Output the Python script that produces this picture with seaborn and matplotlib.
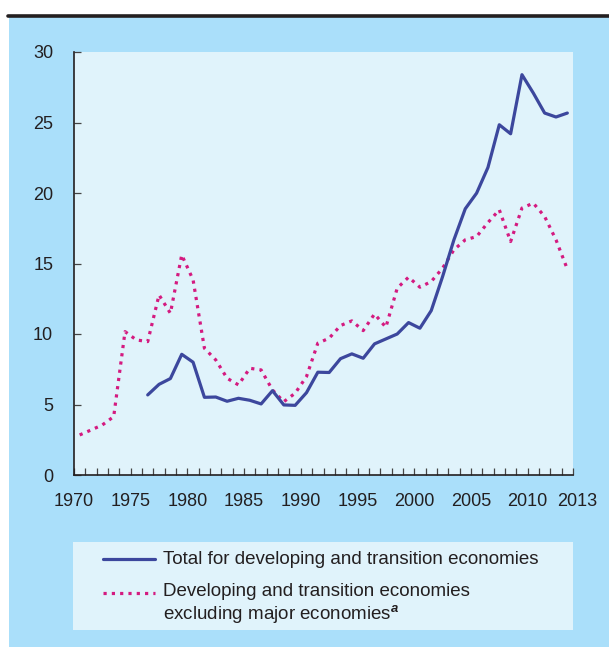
import numpy as np
import pandas as pd
import matplotlib.pyplot as plt
import seaborn as sns
from matplotlib.lines import Line2D
from matplotlib.patches import Rectangle
from matplotlib.transforms import ScaledTranslation

sns.set_style("ticks")
plt.rcParams['font.family'] = ['Liberation Sans', 'DejaVu Sans']
plt.rcParams['mathtext.fontset'] = 'custom'
plt.rcParams['mathtext.bf'] = 'Liberation Sans:bold'
plt.rcParams['mathtext.bfit'] = 'Liberation Sans:italic:bold'

# data
years_excl = np.arange(1970, 2014)
excl_major = [2.84, 3.19, 3.55, 4.14, 10.17, 9.58, 9.46, 12.77, 11.47, 15.61,
              13.84, 8.99, 8.16, 6.86, 6.39, 7.57, 7.45, 6.03, 5.2, 5.8,
              6.98, 9.35, 9.70, 10.6, 10.93, 10.24, 11.42, 10.48, 13.25, 14.03,
              13.32, 13.72, 14.67, 15.97, 16.68, 16.91, 17.9, 18.81, 16.56, 18.93,
              19.28, 18.33, 16.68, 14.6]
years_total = np.arange(1976, 2014)
total = [5.68, 6.43, 6.84, 8.56, 8.0, 5.51, 5.53, 5.23, 5.44, 5.3,
         5.04, 5.98, 4.97, 4.94, 5.84, 7.29, 7.27, 8.25, 8.59, 8.28,
         9.30, 9.65, 10.0, 10.81, 10.41, 11.66, 14.07, 16.68, 18.88, 19.99,
         21.81, 24.84, 24.2, 28.39, 27.09, 25.67, 25.39, 25.67]
label_total = "Total for developing and transition economies"
label_excl = ["Developing and transition economies",
              "excluding major economies$^{\\mathbfit{a}}$"]

navy = '#3c479d'
magenta = '#d41a80'
outer_bg = '#aadffa'
inner_bg = '#e0f3fb'
txt = '#231f20'
dotted = (0, (1.0, 1.6))

df_total = pd.DataFrame({'x': years_total + 0.5, 'y': total})
df_excl = pd.DataFrame({'x': years_excl + 0.5, 'y': excl_major})

fig = plt.figure(figsize=(6.09, 6.47), dpi=100)
fig.patch.set_facecolor('white')
fig.add_artist(Rectangle((9 / 609, 0), 1, (647 - 17) / 647, transform=fig.transFigure,
                         facecolor=outer_bg, edgecolor='none', zorder=-10))
fig.add_artist(Line2D([8 / 609, 1], [(647 - 15.5) / 647] * 2, transform=fig.transFigure,
                      color=txt, lw=2.6))

ax = fig.add_axes([74 / 609, 172 / 647, 499 / 609, 423 / 647])
ax.set_facecolor(inner_bg)

sns.lineplot(data=df_excl, x='x', y='y', color=magenta, linewidth=2.3,
             linestyle=dotted, ax=ax)
sns.lineplot(data=df_total, x='x', y='y', color=navy, linewidth=2.3, ax=ax)

ax.set_xlim(1970, 2014)
ax.set_ylim(0, 30)
ax.set_yticks(np.arange(0, 31, 5))
ticks = np.arange(1970, 2015)
ax.set_xticks(ticks)
ax.set_xticklabels([str(t) if (t % 5 == 0 and t <= 2010) else ('2013' if t == 2014 else '')
                    for t in ticks])
ax.set_xlabel('')
ax.set_ylabel('')
for s in ['top', 'right']:
    ax.spines[s].set_visible(False)
for s in ['left', 'bottom']:
    ax.spines[s].set_color(txt)
    ax.spines[s].set_linewidth(1.2)
ax.tick_params(axis='both', direction='in', length=5, width=0.9, color='#444444',
               labelsize=13, labelcolor=txt)
ax.tick_params(axis='x', pad=13)
ax.tick_params(axis='y', pad=15)
last = ax.get_xticklabels()[-1]
last.set_transform(last.get_transform() + ScaledTranslation(4 / 100, 0, fig.dpi_scale_trans))

# legend box drawn by hand
fig.add_artist(Rectangle((73 / 609, (647 - 629.6) / 647), 500 / 609, 88 / 647,
                         transform=fig.transFigure, facecolor=inner_bg, edgecolor='none'))
hx = [102.7 / 609, 154.5 / 609]
fig.add_artist(Line2D(hx, [(647 - 559) / 647] * 2, transform=fig.transFigure,
                      color=navy, lw=2.3))
fig.add_artist(Line2D(hx, [(647 - 592.5) / 647] * 2, transform=fig.transFigure,
                      color=magenta, lw=2.3, linestyle=dotted))
fig.text(163.3 / 609, (647 - 559) / 647, label_total, fontsize=13.5, color=txt, va='center')
fig.text(163.3 / 609, (647 - 592) / 647, label_excl[0], fontsize=13.5, color=txt, va='center')
fig.text(163.3 / 609, (647 - 615) / 647, label_excl[1], fontsize=13.5, color=txt, va='center')

fig.savefig('out.png', dpi=100)
